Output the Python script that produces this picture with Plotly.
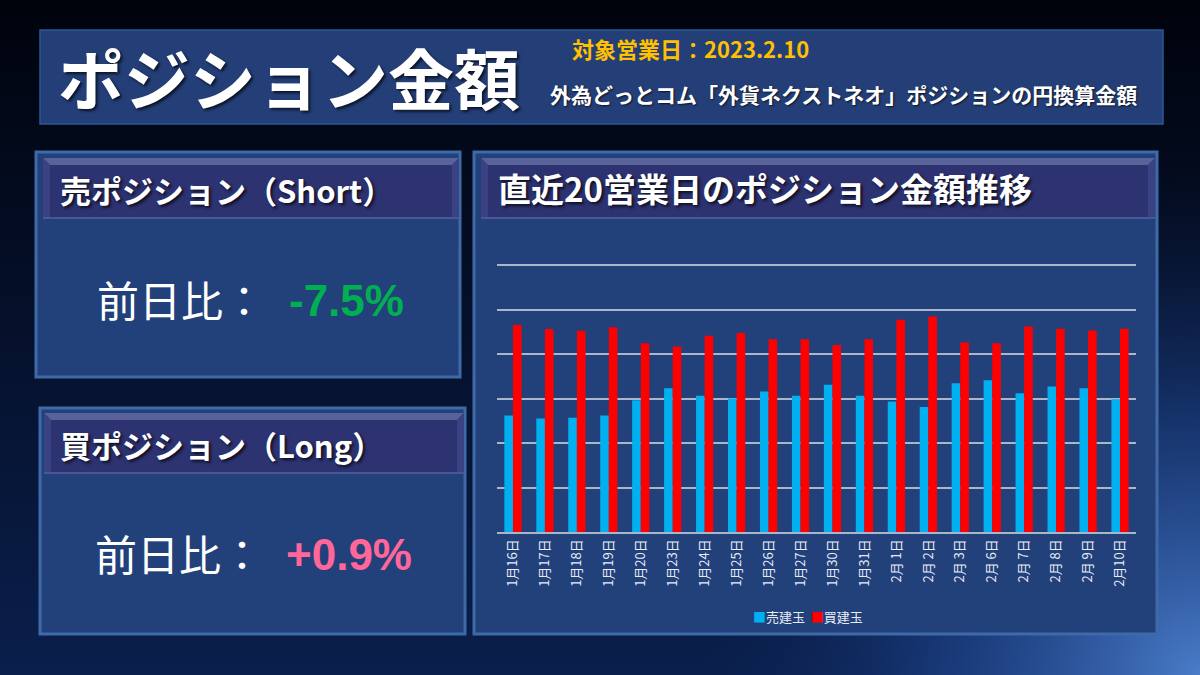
import base64
import plotly.graph_objects as go

# 直近20営業日 (grid step = 1000)
dates = ["1月16日", "1月17日", "1月18日", "1月19日", "1月20日", "1月23日", "1月24日", "1月25日",
         "1月26日", "1月27日", "1月30日", "1月31日", "2月 1日", "2月 2日", "2月 3日", "2月 6日",
         "2月 7日", "2月 8日", "2月 9日", "2月10日"]
shortValues = [2620, 2550, 2570, 2620, 2960, 3230, 3060, 3000, 3160, 3060,
               3310, 3060, 2930, 2810, 3340, 3410, 3120, 3270, 3230, 2985]
longValues = [4650, 4560, 4520, 4600, 4240, 4170, 4410, 4470, 4330, 4330,
              4200, 4330, 4770, 4840, 4260, 4240, 4620, 4570, 4530, 4570]
seriesNames = ["売建玉", "買建玉"]
seriesColors = ["#00b0f0", "#ff0000"]
shortChange = "-7.5%"
longChange = "+0.9%"
yMax = 6300  # axis top; gridlines every 1000 up to 6000

W, H = 1200, 675
JP = "Noto Sans CJK JP"
NUM = "Liberation Sans"


def px(x):
    return x / W


def py(y):
    return 1 - y / H


def rect(x0, y0, x1, y1, fill, line=None, width=0):
    return dict(type="rect", xref="paper", yref="paper", x0=px(x0), x1=px(x1), y0=py(y1), y1=py(y0),
                fillcolor=fill, line=dict(color=line or fill, width=width), layer="below")


def path(points, fill):
    d = "M " + " L ".join("%f,%f" % (px(x), py(y)) for x, y in points) + " Z"
    return dict(type="path", xref="paper", yref="paper", path=d, fillcolor=fill,
                line=dict(width=0), layer="below")


def panelShapes(x0, y0, x1, y1, hx0, hy0, hx1, hy1):
    b = 7
    return [
        rect(x0, y0, x1, y1, "#22407a", "#3f6aa8", 3),
        rect(hx0, hy0, hx1, hy1, "#2d3271"),
        path([(hx0, hy0), (hx1, hy0), (hx1 - b, hy0 + b), (hx0 + b, hy0 + b)], "#5a6399"),
        path([(hx0, hy0), (hx0 + b, hy0 + b), (hx0 + b, hy1), (hx0, hy1)], "#3b4283"),
        path([(hx1, hy0), (hx1, hy1), (hx1 - b, hy1), (hx1 - b, hy0 + b)], "#3b4283"),
        rect(hx0, hy1 - 2, hx1, hy1, "#4a5796"),
    ]


def text(x, y, s, size, color="white", family=JP, weight="bold", anchor="left", shadow="none"):
    return dict(xref="paper", yref="paper", x=px(x), y=py(y), text=s, showarrow=False,
                xanchor=anchor, yanchor="middle",
                font=dict(family=family, size=size, color=color, weight=weight, shadow=shadow))


# background gradient as an svg image
svg = """<svg xmlns='http://www.w3.org/2000/svg' width='1200' height='675'>
<defs>
<linearGradient id='a' x1='0' y1='0' x2='0' y2='1'>
<stop offset='0' stop-color='#00030c'/><stop offset='1' stop-color='#0a1f4c'/></linearGradient>
<radialGradient id='b' cx='1200' cy='675' r='520' gradientUnits='userSpaceOnUse'>
<stop offset='0' stop-color='#4a7cc8' stop-opacity='1'/>
<stop offset='0.5' stop-color='#2550a0' stop-opacity='0.5'/>
<stop offset='1' stop-color='#0a1f4c' stop-opacity='0'/></radialGradient>
</defs>
<rect width='1200' height='675' fill='url(#a)'/>
<rect width='1200' height='675' fill='url(#b)'/>
</svg>"""
bgSource = "data:image/svg+xml;base64," + base64.b64encode(svg.encode()).decode()

fig = go.Figure()
fig.add_trace(go.Bar(x=dates, y=shortValues, name=seriesNames[0], marker=dict(color=seriesColors[0], line=dict(width=0))))
fig.add_trace(go.Bar(x=dates, y=longValues, name=seriesNames[1], marker=dict(color=seriesColors[1], line=dict(width=0))))

shapes = [rect(40, 30, 1163, 124, "#243f78", "#2f5595", 1.5)]
shapes += panelShapes(36, 152, 460, 377, 43, 158, 459, 219)
shapes += panelShapes(40, 408, 465, 634, 44, 413, 464, 474)
shapes += panelShapes(474, 152, 1157, 634, 481, 158, 1155, 219)

shadow = "2px 2px 3px rgba(0,0,0,0.7)"
legendText = "  ".join("<span style='color:%s'>■</span>%s" % (c, n) for c, n in zip(seriesColors, seriesNames))
annotations = [
    text(56, 76, "ポジション金額", 66, shadow=shadow),
    text(570, 48, "対象営業日：2023.2.10", 22, color="#ffc000"),
    text(548, 94, "外為どっとコム「外貨ネクストネオ」ポジションの円換算金額", 21, shadow="1px 1px 2px rgba(0,0,0,0.7)"),
    text(58, 190, "売ポジション（Short）", 31, shadow=shadow),
    text(58, 444, "買ポジション（Long）", 31, shadow=shadow),
    text(496, 188, "直近20営業日のポジション金額推移", 33, shadow=shadow),
    text(95, 298, "前日比：", 42, weight="normal"),
    text(287, 300, shortChange, 44, color="#00b050", family=NUM),
    text(93, 552, "前日比：", 42, weight="normal"),
    text(284, 554, longChange, 44, color="#ff6699", family=NUM),
    text(808, 616, legendText, 13, color="#e6ecf6", weight="normal", anchor="center"),
]

# plot area: baseline at y=532 px, 6000 at y=265 px
plotTop = 532 - (532 - 265) * yMax / 6000

fig.update_layout(
    width=W, height=H,
    margin=dict(l=0, r=0, t=0, b=0),
    paper_bgcolor="#020818",
    plot_bgcolor="rgba(0,0,0,0)",
    barmode="group",
    bargap=0.46,
    bargroupgap=0,
    shapes=shapes,
    annotations=annotations,
    images=[dict(source=bgSource, xref="paper", yref="paper", x=0, y=1, sizex=1, sizey=1,
                 sizing="stretch", xanchor="left", yanchor="top", layer="below")],
    xaxis=dict(domain=[px(497), px(1136)], tickangle=-90, showgrid=False, showline=True,
               linecolor="#a9b6cc", linewidth=2, ticks="",
               tickfont=dict(family=JP, size=13, color="#e6ecf6")),
    yaxis=dict(domain=[py(532), py(plotTop)], range=[0, yMax], tickmode="linear", tick0=0, dtick=1000,
               showticklabels=False, gridcolor="#a9b6cc", gridwidth=2, zeroline=False, fixedrange=True),
    font=dict(family=JP),
    showlegend=False,
)

fig.write_html("out.html", config={"displayModeBar": False},
               post_script="document.body.style.margin='0';document.body.style.background='#020818';")
